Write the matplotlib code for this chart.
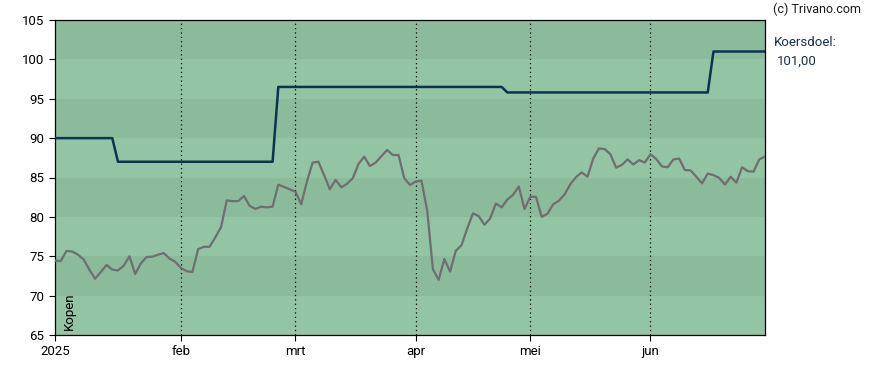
import numpy as np
import pandas as pd
import matplotlib.pyplot as plt

plt.rcParams['font.family'] = ['Roboto', 'DejaVu Sans']

# Slotkoers per handelsdag (jan - jun 2025)
koers = [74.44, 74.4, 75.67, 75.6, 75.2, 74.6, 73.3, 72.15, 73.0, 73.9,
         73.3, 73.2, 73.8, 75.0, 72.75, 74.1, 74.9, 74.95, 75.2, 75.4,
         74.7, 74.3, 73.5, 73.1, 73.0, 75.9, 76.2, 76.2, 77.4, 78.7,
         82.1, 82.0, 82.0, 82.65, 81.4, 81.0, 81.3, 81.2, 81.3, 84.1,
         83.8, 83.5, 83.2, 81.6, 84.5, 86.9, 87.0, 85.3, 83.5, 84.7,
         83.75, 84.2, 84.9, 86.7, 87.65, 86.45, 86.9, 87.7, 88.5, 87.85,
         87.85, 84.9, 84.05, 84.5, 84.6, 80.8, 73.35, 72.0, 74.65, 73.05,
         75.7, 76.4, 78.55, 80.45, 80.1, 79.0, 79.8, 81.7, 81.2, 82.2,
         82.8, 83.85, 81.0, 82.55, 82.55, 80.0, 80.4, 81.6, 82.05, 82.85,
         84.15, 85.05, 85.65, 85.1, 87.4, 88.7, 88.6, 87.95, 86.25, 86.6,
         87.3, 86.65, 87.2, 86.9, 87.95, 87.35, 86.4, 86.3, 87.3, 87.4,
         85.95, 85.9, 85.1, 84.25, 85.5, 85.3, 84.95, 84.1, 85.1, 84.35,
         86.3, 85.8, 85.75, 87.3, 87.65]

# Koersdoel (analistenadvies) per handelsdag
koersdoel = [90.0] * 11 + [87.0] * 28 + [96.5] * 40 + [95.8] * 36 + [101.0] * 10

# handelsdagen Euronext (zonder feestdagen)
feestdagen = ['2025-01-01', '2025-04-18', '2025-04-21', '2025-05-01']
dagen = pd.bdate_range('2025-01-01', '2025-06-30')
dagen = dagen[~dagen.isin(pd.to_datetime(feestdagen))]

maand_labels = ['2025', 'feb', 'mrt', 'apr', 'mei', 'jun']
maand_idx = [int(np.argmax(dagen.month == m)) for m in range(1, 7)]

x = np.arange(len(koers))

fig = plt.figure(figsize=(8.88, 3.70), dpi=100)
ax = fig.add_axes([55/888, 35/370, 710/888, 315/370])

# achtergrond banden
for lo in range(65, 105, 5):
    kleur = '#8bbb9b' if (lo // 5) % 2 == 0 else '#93c4a3'
    ax.axhspan(lo, lo + 5, color=kleur, zorder=0, lw=0)

for i in maand_idx[1:]:
    ax.axvline(i, color='black', ls=(0, (1, 2.5)), lw=0.9, zorder=1)

ax.plot(x, koers, color='#6f6e70', lw=1.6, zorder=3)
ax.plot(x, koersdoel, color='#0b3452', lw=1.8, zorder=4)

ax.set_xlim(0, len(koers) - 1)
ax.set_ylim(65, 105)
ax.set_yticks(range(65, 106, 5))
ax.set_xticks(maand_idx)
ax.set_xticklabels(maand_labels)
ax.tick_params(axis='both', direction='out', length=4, width=0.8,
               labelsize=9.5, colors='black')
for s in ax.spines.values():
    s.set_color('black')
    s.set_linewidth(0.9)

ax.text(0.011, 0.015, 'Kopen', rotation=90, transform=ax.transAxes,
        fontsize=9.5, ha='left', va='bottom', color='black')

fig.text(773/888, 1 - 9/370, '(c) Trivano.com', fontsize=9, color='#1a1a1a',
         ha='left', va='center')
fig.text(774/888, 1 - 43/370, 'Koersdoel:', fontsize=9.5, color='#1c2f48',
         ha='left', va='center')
fig.text(777/888, 1 - 61/370, '101,00', fontsize=9.5, color='#1c2f48',
         ha='left', va='center')

fig.savefig('out.png', dpi=100)
